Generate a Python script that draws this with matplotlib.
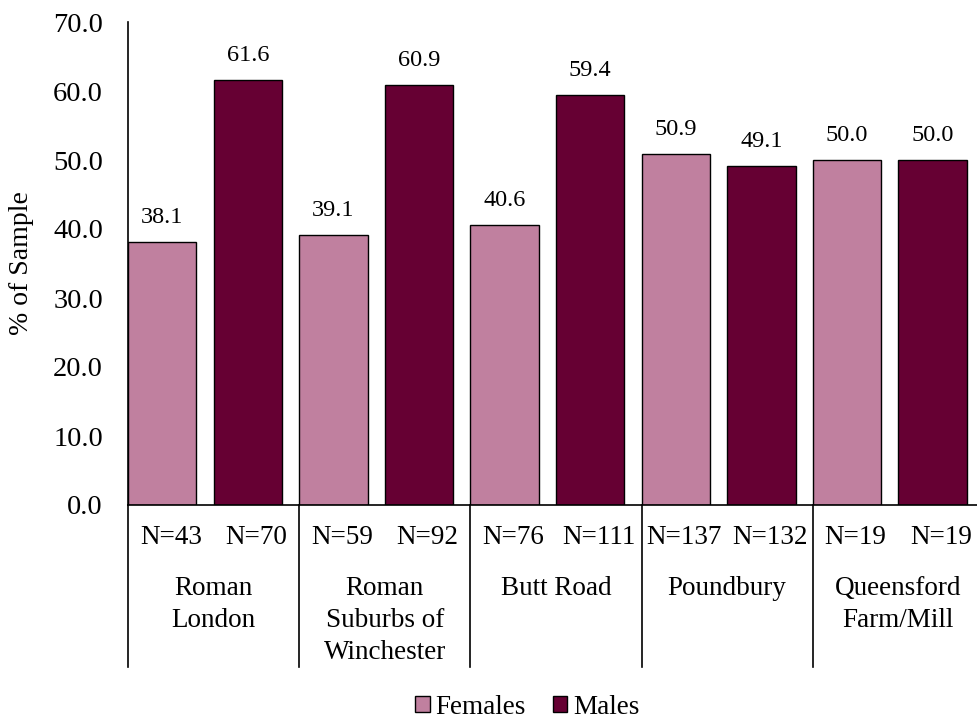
import matplotlib.pyplot as plt
from matplotlib.patches import Patch

plt.rcParams['font.family'] = ['Liberation Serif', 'DejaVu Serif']

# data
sites = ['Roman\nLondon', 'Roman\nSuburbs of\nWinchester', 'Butt Road', 'Poundbury', 'Queensford\nFarm/Mill']
females = [38.1, 39.1, 40.6, 50.9, 50.0]
males = [61.6, 60.9, 59.4, 49.1, 50.0]
n_females = [43, 59, 76, 137, 19]
n_males = [70, 92, 111, 132, 19]

female_color = '#C0809F'
male_color = '#660033'

fig = plt.figure(figsize=(9.77, 7.24), dpi=100)
ax = fig.add_axes([128 / 977, (724 - 505) / 724, (977 - 128) / 977, 483 / 724])

# each site gets two slots: female then male, bars sit at the left of each slot
for i in range(len(sites)):
    xf = 2 * i
    xm = 2 * i + 1
    ax.bar(xf, females[i], width=0.8, align='edge', color=female_color, edgecolor='black', linewidth=1)
    ax.bar(xm, males[i], width=0.8, align='edge', color=male_color, edgecolor='black', linewidth=1)
    ax.annotate(f'{females[i]:.1f}', (xf + 0.4, females[i]), xytext=(0, 10), textcoords='offset points',
                ha='center', va='bottom', fontsize=17.5)
    ax.annotate(f'{males[i]:.1f}', (xm + 0.4, males[i]), xytext=(0, 10), textcoords='offset points',
                ha='center', va='bottom', fontsize=17.5)

ax.set_xlim(0, 977 / 85.6 - 128 / 85.6)
ax.set_ylim(0, 70)
ax.set_yticks(range(0, 71, 10))
ax.set_yticklabels([f'{v:.1f}' for v in range(0, 71, 10)])
ax.tick_params(axis='y', length=0, pad=18, labelsize=20.5)
ax.set_xticks([])
ax.spines['top'].set_visible(False)
ax.spines['right'].set_visible(False)
ax.spines['left'].set_linewidth(1.2)
ax.spines['bottom'].set_linewidth(1.2)
ax.set_ylabel('% of Sample', fontsize=20, labelpad=14)

# multi-level category axis below the plot
trans = ax.get_xaxis_transform()
for k in range(0, 11, 2):
    ax.plot([k, k], [0, -162 / 483], transform=trans, color='black', lw=1.2, clip_on=False)
for i in range(len(sites)):
    ax.text(2 * i + 0.5, -32 / 483, f'N={n_females[i]}', transform=trans, ha='center', va='center', fontsize=19.5)
    ax.text(2 * i + 1.5, -32 / 483, f'N={n_males[i]}', transform=trans, ha='center', va='center', fontsize=19.5)
    ax.text(2 * i + 1, -71 / 483, sites[i], transform=trans, ha='center', va='top', fontsize=19.5,
            linespacing=1.37)

handles = [Patch(facecolor=female_color, edgecolor='black'), Patch(facecolor=male_color, edgecolor='black')]
fig.legend(handles, ['Females', 'Males'], loc='center', bbox_to_anchor=(527 / 977, 1 - 707 / 724),
           ncol=2, frameon=False, fontsize=19.5, handlelength=0.55, handleheight=0.55,
           handletextpad=0.2, columnspacing=1.0)

fig.savefig('out.png', dpi=100)
